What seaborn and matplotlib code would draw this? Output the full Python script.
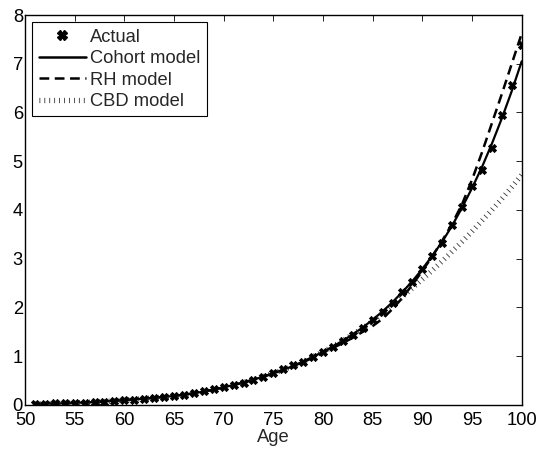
import numpy as np
import pandas as pd
import matplotlib
matplotlib.use("Agg")
import matplotlib.pyplot as plt
import seaborn as sns
from matplotlib.lines import Line2D

ages = list(range(51, 101))

actual = [0.02, 0.025, 0.03, 0.035, 0.04, 0.05, 0.06, 0.07, 0.08, 0.10,
          0.11, 0.13, 0.14, 0.16, 0.18, 0.21, 0.24, 0.28, 0.32, 0.36,
          0.41, 0.46, 0.52, 0.58, 0.65, 0.73, 0.81, 0.89, 0.99, 1.09,
          1.19, 1.31, 1.44, 1.58, 1.74, 1.91, 2.10, 2.32, 2.53, 2.79,
          3.06, 3.33, 3.70, 4.07, 4.50, 4.83, 5.28, 5.95, 6.57, 7.39]

cohort = [0.02, 0.025, 0.03, 0.035, 0.045, 0.05, 0.06, 0.07, 0.085, 0.10,
          0.115, 0.13, 0.145, 0.165, 0.185, 0.21, 0.24, 0.275, 0.315, 0.36,
          0.41, 0.46, 0.52, 0.58, 0.65, 0.72, 0.80, 0.89, 0.99, 1.09,
          1.20, 1.32, 1.45, 1.59, 1.75, 1.92, 2.11, 2.32, 2.54, 2.79,
          3.06, 3.35, 3.68, 4.05, 4.45, 4.88, 5.36, 5.88, 6.44, 7.05]

rh = [0.02, 0.025, 0.03, 0.035, 0.045, 0.05, 0.06, 0.07, 0.085, 0.10,
      0.115, 0.13, 0.145, 0.165, 0.185, 0.21, 0.24, 0.275, 0.315, 0.36,
      0.41, 0.46, 0.52, 0.58, 0.65, 0.72, 0.80, 0.88, 0.97, 1.07,
      1.17, 1.27, 1.38, 1.50, 1.62, 1.77, 1.97, 2.20, 2.47, 2.75,
      3.05, 3.37, 3.72, 4.12, 4.62, 5.18, 5.78, 6.38, 7.00, 7.62]

cbd = [0.02, 0.025, 0.03, 0.035, 0.045, 0.05, 0.06, 0.07, 0.085, 0.10,
       0.115, 0.13, 0.145, 0.165, 0.185, 0.21, 0.24, 0.275, 0.315, 0.36,
       0.41, 0.46, 0.52, 0.58, 0.65, 0.72, 0.80, 0.89, 0.99, 1.09,
       1.20, 1.32, 1.45, 1.58, 1.72, 1.88, 2.05, 2.22, 2.40, 2.58,
       2.76, 2.95, 3.15, 3.35, 3.56, 3.78, 4.00, 4.23, 4.47, 4.72]

x_ticks = list(range(50, 101, 5))
y_ticks = list(range(0, 9))
labels = ["Actual", "Cohort model", "RH model", "CBD model"]

sns.set_style("white")
plt.rcParams["font.family"] = ["Liberation Sans", "DejaVu Sans"]
plt.rcParams["lines.scale_dashes"] = False
plt.rcParams["xtick.direction"] = "in"
plt.rcParams["ytick.direction"] = "in"

FS = 13.2

df = pd.DataFrame({"Age": ages, "actual": actual, "cohort": cohort,
                   "rh": rh, "cbd": cbd})

fig = plt.figure(figsize=(5.38, 4.55), dpi=100)
ax = fig.add_axes([0.0465, 0.11, 0.9232, 0.857])

sns.lineplot(data=df, x="Age", y="cohort", ax=ax, color="black",
             linewidth=1.6)
sns.lineplot(data=df, x="Age", y="rh", ax=ax, color="black", linewidth=1.8)
ax.lines[-1].set_dashes((7, 4))
sns.lineplot(data=df, x="Age", y="cbd", ax=ax, color="#222222",
             linewidth=3.8)
ax.lines[-1].set_dashes((0.55, 3.0))
ax.lines[-1].set_dash_capstyle("butt")
sns.scatterplot(data=df, x="Age", y="actual", ax=ax, marker="X",
                color="black", s=34, linewidth=0.6, edgecolor="black",
                zorder=5)

ax.set_xlim(50, 100)
ax.set_ylim(0, 8)
ax.set_xticks(x_ticks)
ax.set_yticks(y_ticks)
ax.set_xlabel("Age", fontsize=FS, labelpad=0)
ax.set_ylabel("")
ax.tick_params(axis="both", labelsize=FS, length=4, width=0.6,
               top=True, right=True, pad=1.5, colors="black")
ax.tick_params(axis="x", pad=5)
for s in ax.spines.values():
    s.set_visible(True)
    s.set_color("black")
    s.set_linewidth(1.0)

cbd_handle = Line2D([], [], color="#222222", linewidth=3.8)
cbd_handle.set_dashes((0.55, 3.0))
cbd_handle.set_dash_capstyle("butt")
rh_handle = Line2D([], [], color="black", linewidth=1.8)
rh_handle.set_dashes((7, 4))
handles = [
    Line2D([], [], color="black", marker="X", linestyle="none",
           markersize=6.5),
    Line2D([], [], color="black", linewidth=1.8),
    rh_handle,
    cbd_handle,
]
leg = ax.legend(handles, labels, loc="upper left", fontsize=FS,
                frameon=True, fancybox=False, handlelength=2.55,
                handletextpad=0.25, borderaxespad=0.4, borderpad=0.35,
                labelspacing=0.24, framealpha=1)
leg.get_frame().set_edgecolor("black")
leg.get_frame().set_linewidth(0.8)

fig.savefig("out.png", dpi=100)
